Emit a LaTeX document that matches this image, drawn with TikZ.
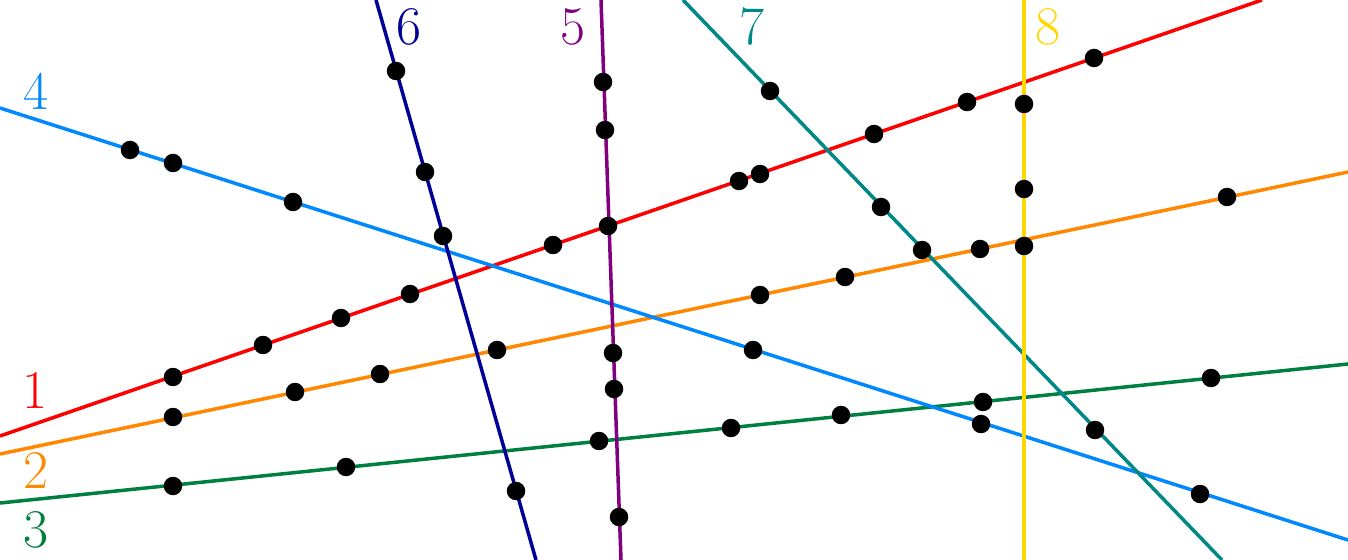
\documentclass[tikz,border=0pt]{standalone}
\begin{document}
\begin{tikzpicture}[x=0.02cm,y=-0.02cm,
  ln/.style={line width=2pt},
  pt/.style={circle,fill=black,inner sep=0pt,minimum size=0.37cm},
  lab/.style={font=\fontsize{31}{31}\selectfont,inner sep=0pt}]
\definecolor{cred}{RGB}{255,0,0}
\definecolor{corange}{RGB}{255,136,0}
\definecolor{cgreen}{RGB}{0,128,64}
\definecolor{cblue}{RGB}{0,136,255}
\definecolor{cpurple}{RGB}{128,0,128}
\definecolor{cnavy}{RGB}{0,0,150}
\definecolor{cteal}{RGB}{0,136,136}
\definecolor{cyellow}{RGB}{255,215,0}
\useasboundingbox (0,0) rectangle (1348,560);
\begin{scope}
\clip (0,0) rectangle (1348,560);
\coordinate (a1) at (0,436); \coordinate (b1) at (1262,0);
\coordinate (a2) at (0,454); \coordinate (b2) at (1348,172);
\coordinate (a3) at (0,503); \coordinate (b3) at (1348,364);
\coordinate (a4) at (0,108); \coordinate (b4) at (1348,540);
\coordinate (a5) at (601,0); \coordinate (b5) at (621,560);
\coordinate (a6) at (376,0); \coordinate (b6) at (536,560);
\coordinate (a7) at (683,0); \coordinate (b7) at (1222,560);
\coordinate (a8) at (1024,0); \coordinate (b8) at (1024,560);
\draw[ln,cred] (a1) -- (b1);
\draw[ln,corange] (a2) -- (b2);
\draw[ln,cgreen] (a3) -- (b3);
\draw[ln,cblue] (a4) -- (b4);
\draw[ln,cpurple] (a5) -- (b5);
\draw[ln,cnavy] (a6) -- (b6);
\draw[ln,cteal] (a7) -- (b7);
\draw[ln,cyellow] (a8) -- (b8);
\end{scope}
% labels
\node[lab,cblue] (l4) at (36,91) {4};
\node[lab,cred] (l1) at (35,390) {1};
\node[lab,corange] (l2) at (36,470) {2};
\node[lab,cgreen] (l3) at (36,530) {3};
\node[lab,cnavy] (l6) at (409,27) {6};
\node[lab,cpurple] (l5) at (573,27) {5};
\node[lab,cteal] (l7) at (752,27) {7};
\node[lab,cyellow] (l8) at (1048,27) {8};
% dots on line 1
\node[pt] (p1a) at (173,377) {};
\node[pt] (p1b) at (263,345) {};
\node[pt] (p1c) at (341,318) {};
\node[pt] (p1d) at (410,294) {};
\node[pt] (p1e) at (553,245) {};
\node[pt] (p1f) at (608,226) {};
\node[pt] (p1g) at (739,181) {};
\node[pt] (p1h) at (760,174) {};
\node[pt] (p1i) at (874,134) {};
\node[pt] (p1j) at (967,102) {};
\node[pt] (p1k) at (1094,58) {};
% line 2
\node[pt] (p2a) at (173,417) {};
\node[pt] (p2b) at (295,392) {};
\node[pt] (p2c) at (380,374) {};
\node[pt] (p2d) at (497,350) {};
\node[pt] (p2e) at (760,295) {};
\node[pt] (p2f) at (845,277) {};
\node[pt] (p2g) at (980,249) {};
\node[pt] (p2h) at (1024,246) {};
\node[pt] (p2i) at (1227,197) {};
% line 3
\node[pt] (p3a) at (173,486) {};
\node[pt] (p3b) at (346,467) {};
\node[pt] (p3c) at (599,441) {};
\node[pt] (p3d) at (731,428) {};
\node[pt] (p3e) at (841,415) {};
\node[pt] (p3f) at (983,402) {};
\node[pt] (p3g) at (1211,378) {};
% line 4
\node[pt] (p4a) at (130,150) {};
\node[pt] (p4b) at (173,163) {};
\node[pt] (p4c) at (293,202) {};
\node[pt] (p4d) at (753,350) {};
\node[pt] (p4e) at (981,424) {};
\node[pt] (p4f) at (1200,494) {};
% line 5
\node[pt] (p5a) at (603,82) {};
\node[pt] (p5b) at (605,130) {};
\node[pt] (p5c) at (613,353) {};
\node[pt] (p5d) at (614,389) {};
\node[pt] (p5e) at (619,517) {};
% line 6
\node[pt] (p6a) at (396,71) {};
\node[pt] (p6b) at (425,172) {};
\node[pt] (p6c) at (443,236) {};
\node[pt] (p6d) at (516,491) {};
% line 7
\node[pt] (p7a) at (770,91) {};
\node[pt] (p7b) at (881,207) {};
\node[pt] (p7c) at (922,250) {};
\node[pt] (p7d) at (1095,430) {};
% line 8
\node[pt] (p8a) at (1024,104) {};
\node[pt] (p8b) at (1024,189) {};
\end{tikzpicture}
\end{document}
